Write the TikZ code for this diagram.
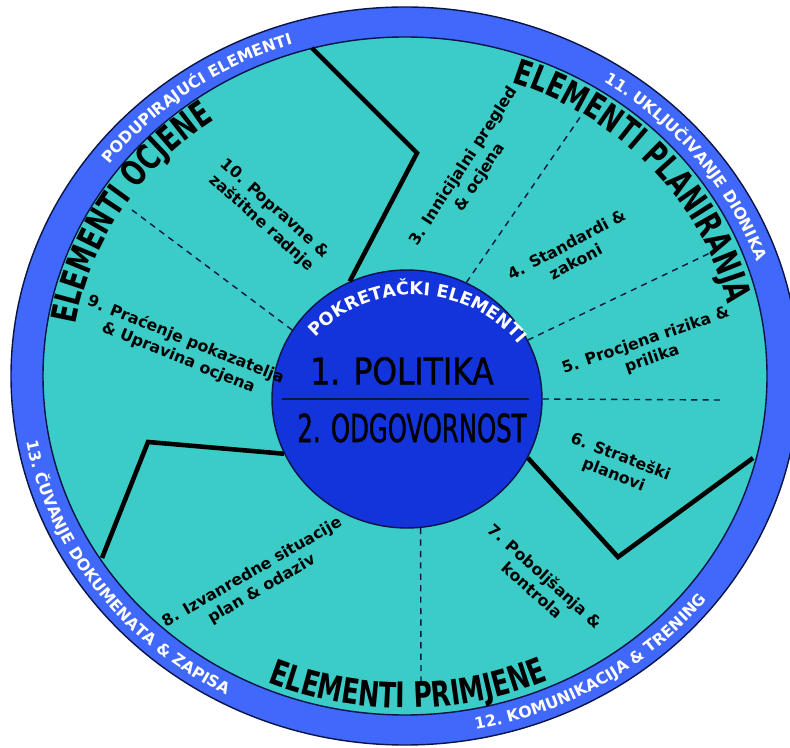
\documentclass[tikz,border=0pt]{standalone}
\usepackage{fontspec}
\usetikzlibrary{shapes.geometric, decorations.text}

\newfontfamily\labelfont{DejaVu Sans}
\newfontfamily\secfont[FakeStretch=0.72]{DejaVu Sans}
\newfontfamily\polfont[FakeStretch=0.85,FakeBold=1]{DejaVu Sans}
\newfontfamily\odgfont[FakeStretch=0.63,FakeBold=1]{DejaVu Sans}
\newcommand\ringstyle{\labelfont\bfseries\fontsize{9}{11}\selectfont}
\newcommand\hubstyle{\labelfont\bfseries\fontsize{10}{12}\selectfont}
\newcommand\secstyle{\secfont\bfseries\fontsize{20}{22}\selectfont}

\definecolor{ringblue}{RGB}{64,104,250}
\definecolor{bodyteal}{RGB}{60,204,200}
\definecolor{coreblue}{RGB}{18,52,218}
\definecolor{edgenavy}{RGB}{10,20,70}

\begin{document}
\begin{tikzpicture}[x=0.02cm, y=0.02cm]

\tikzset{ring/.style = {fill=ringblue, draw=edgenavy, line width=0.8pt}}
\tikzset{body/.style = {fill=bodyteal, draw=edgenavy, line width=0.8pt}}
\tikzset{core/.style = {shape=ellipse, fill=coreblue, draw=edgenavy, line width=0.8pt,
  minimum width=5.4cm, minimum height=5.16cm, inner sep=0pt}}
\tikzset{wall/.style = {line width=2.6pt, black}}
\tikzset{split/.style = {dash pattern=on 3.5pt off 3pt, line width=0.8pt, edgenavy}}
\tikzset{item/.style = {font=\labelfont\bfseries\fontsize{9}{11}\selectfont, align=center, inner sep=0pt}}
\tikzset{ringtext/.style = {decorate, decoration={text along path, text align=center, text color=white}}}
\tikzset{sectext/.style = {decorate, decoration={text along path, text align=center, text color=black}}}

\useasboundingbox (0,0) rectangle (790,747);
\clip (0,0) rectangle (790,747);

%rings
\path[ring] (405,371) ellipse [x radius=394, y radius=369];
\path[body] (405,371) ellipse [x radius=362, y radius=339];

%centre
\node[core] (core) at (407,348) {};

%corners
\coordinate (kinkA) at (417,594);
\coordinate (endA) at (312,699);
\coordinate (kinkB) at (148,305);
\coordinate (endB) at (102,189);
\coordinate (kinkC) at (618,190);
\coordinate (endC) at (753,289);
\coordinate (d1) at (132,537);
\coordinate (d2) at (583,634);
\coordinate (d3) at (710,494);
\coordinate (d4) at (720,347);
\coordinate (d5) at (421,64);

%walls
\draw[wall] (core.116) -- (kinkA) -- (endA);
\draw[wall] (core.204) -- (kinkB) -- (endB);
\draw[wall] (core.-26) -- (kinkC) -- (endC);

%splits
\draw[split] (core.149) -- (d1);
\draw[split] (core.63) -- (d2);
\draw[split] (core.26) -- (d3);
\draw[split] (core.0) -- (d4);
\draw[split] (core.-84) -- (d5);

%centre text
\draw[edgenavy, line width=0.9pt] ([xshift=0.22cm]core.west) -- ([xshift=-0.28cm]core.east);
\node[font=\polfont\fontsize{21}{24}\selectfont] (pol) at (402,376) {1. POLITIKA};
\node[font=\odgfont\fontsize{22}{25}\selectfont] (odg) at (412,319) {2. ODGOVORNOST};
\path[ringtext, decoration={text={|\hubstyle|POKRETAČKI ELEMENTI}}]
  ([shift={(414,316)}]150:136) arc [start angle=150, end angle=26, radius=136];

%items
\node[item, rotate=57] (l3) at (472,575) {3. Innicijalni pregled\\\& ocjena};
\node[item, rotate=28] (l4) at (571,494) {4. Standardi \&\\zakoni};
\node[item, rotate=19] (l5) at (649,397) {5. Procjena rizika \&\\prilika};
\node[item, rotate=-21] (l6) at (617,281) {6. Strateški\\planovi};
\node[item, rotate=-42] (l7) at (539,164) {7. Poboljšanja \&\\kontrola};
\node[item, rotate=30] (l8) at (257,166) {8. Izvanredne situacije\\plan \& odaziv};
\node[item, rotate=-22] (l9) at (182,398) {9. Praćenje pokazatelja\\\& Upravina ocjena};
\node[item, rotate=-42] (l10) at (268,531) {10. Popravne \&\\zaštitne radnje};

%ring labels
\path[ringtext, decoration={text={|\ringstyle|PODUPIRAJUĆI ELEMENTI}}]
  ([shift={(405,371)}]160:372 and 348) arc [start angle=160, end angle=91, x radius=372, y radius=348];
\path[ringtext, decoration={text={|\ringstyle|11. UKLJUČIVANJE DIONIKA}}]
  ([shift={(405,371)}]75:372 and 348) arc [start angle=75, end angle=1, x radius=372, y radius=348];
\path[ringtext, decoration={text={|\ringstyle|12. KOMUNIKACIJA {\&} TRENING}}]
  ([shift={(405,371)}]-95:385 and 360) arc [start angle=-95, end angle=-22, x radius=385, y radius=360];
\path[ringtext, decoration={text={|\ringstyle|13. ČUVANJE DOKUMENATA {\&} ZAPISA}}]
  ([shift={(405,371)}]176:385 and 360) arc [start angle=176, end angle=256, x radius=385, y radius=360];

%section labels
\path[sectext, decoration={text={|\secstyle|ELEMENTI OCJENE}}]
  ([shift={(405,371)}]185:334 and 312) arc [start angle=185, end angle=111, x radius=334, y radius=312];
\path[sectext, decoration={text={|\secstyle|ELEMENTI PLANIRANJA}}]
  ([shift={(405,371)}]80:332 and 310) arc [start angle=80, end angle=4, x radius=332, y radius=310];
\path[sectext, decoration={text={|\secstyle|ELEMENTI PRIMJENE}}]
  ([shift={(405,371)}]230:355 and 332) arc [start angle=230, end angle=311, x radius=355, y radius=332];

\end{tikzpicture}
\end{document}
